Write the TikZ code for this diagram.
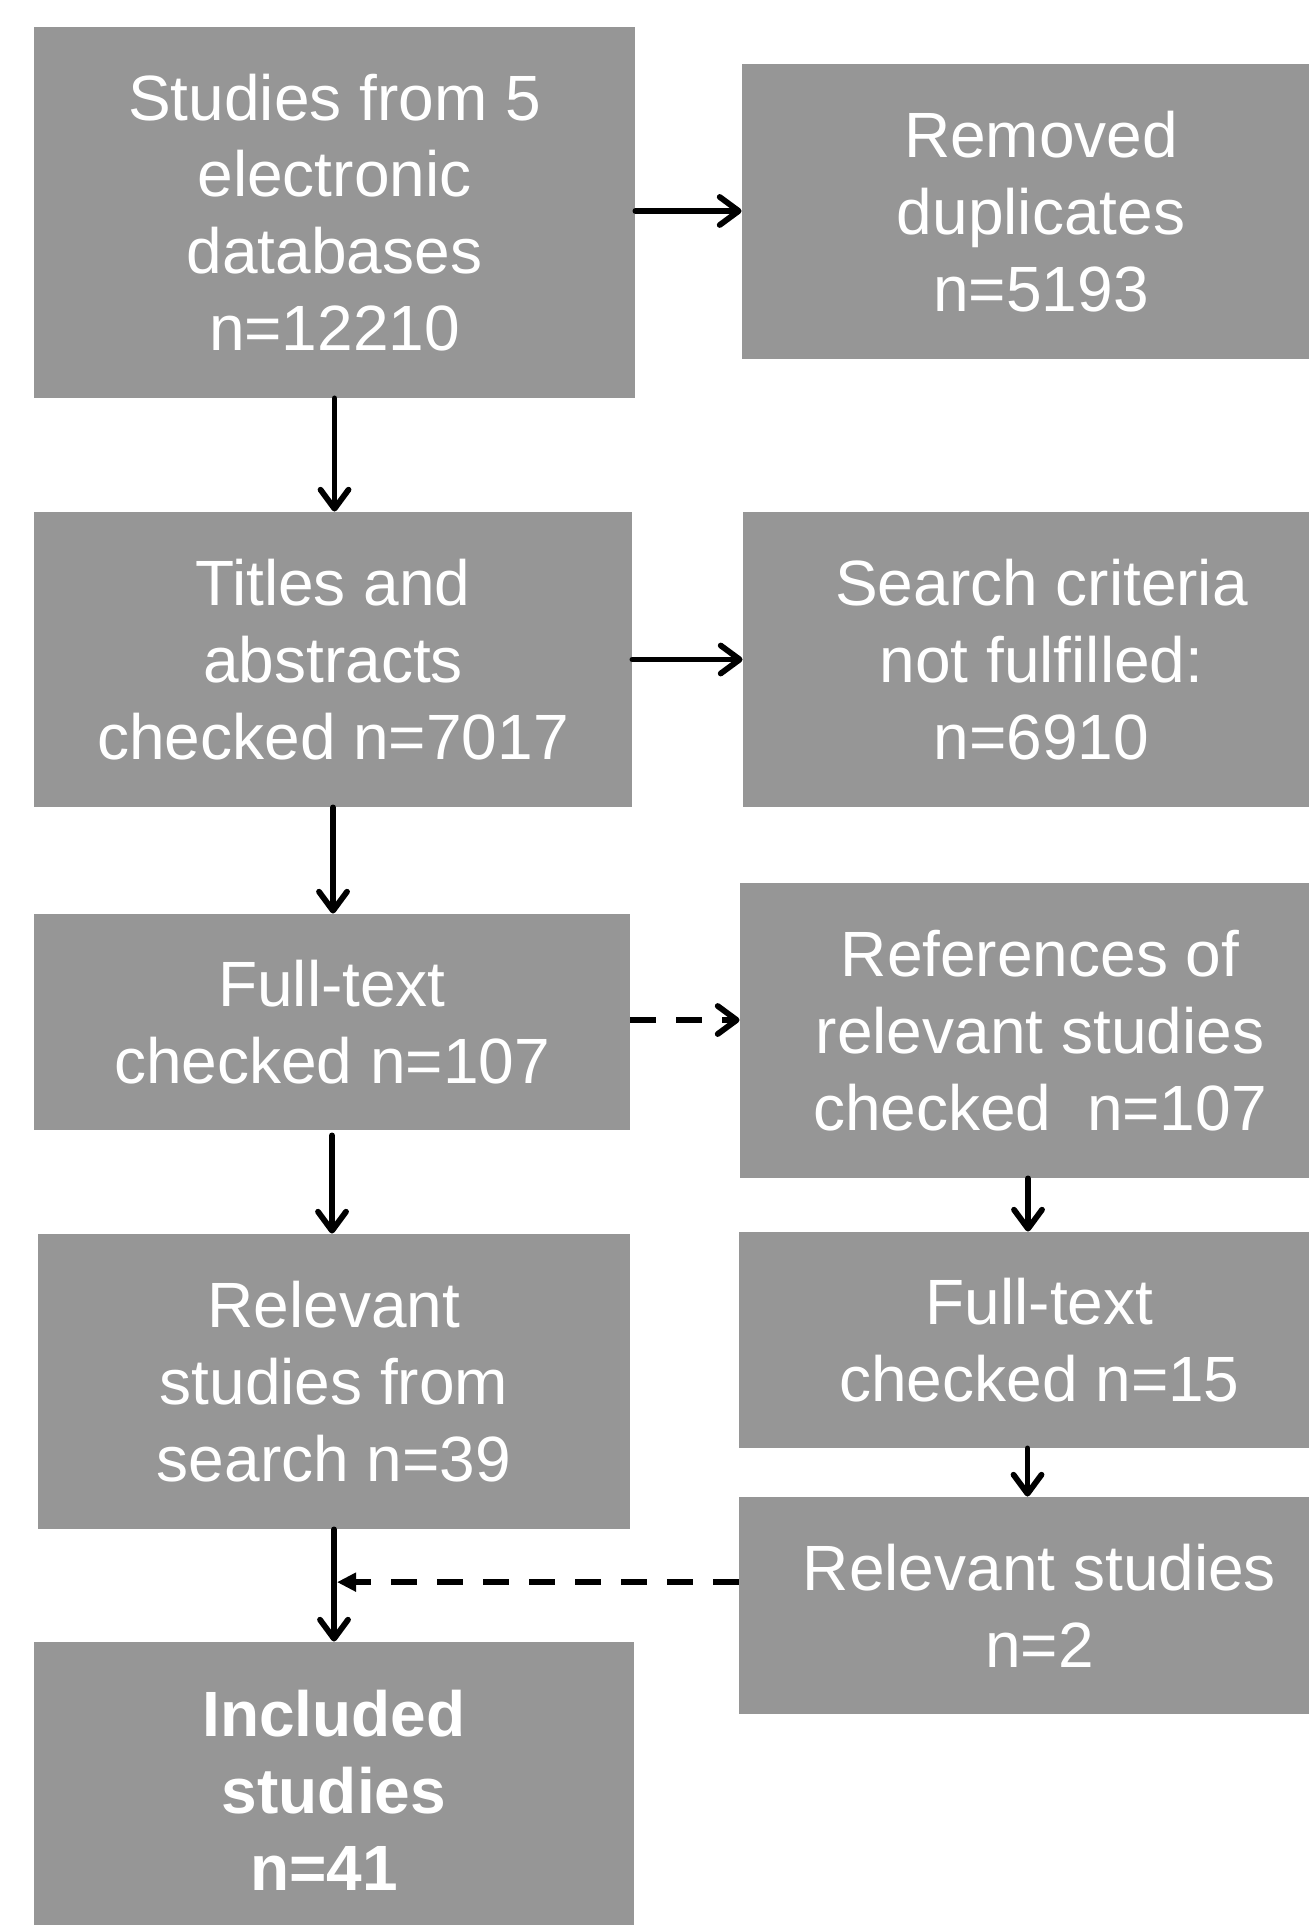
\documentclass[tikz,border=0pt]{standalone}
\usepackage{fontspec}
\setmainfont{Liberation Sans}
\usetikzlibrary{arrows.meta,calc}
\definecolor{boxgray}{RGB}{150,150,150}
\begin{document}
\begin{tikzpicture}[x=0.5pt,y=-0.5pt,
  box/.style={fill=boxgray,draw=none,inner sep=0pt,align=center,text=white,
    font=\fontsize{32pt}{38.4pt}\selectfont},
  conn/.style={line width=2.9pt,line cap=round,line join=round,
    -{Straight Barb[length=9.5pt,width=14pt,line cap=round,line join=round]}},
  dconn/.style={line width=2.9pt,dash pattern=on 13pt off 10pt,
    -{Straight Barb[length=9.5pt,width=14pt,line cap=round,line join=round]}},
  tconn/.style={line width=2.9pt,dash pattern=on 13pt off 10pt,
    -{Triangle[length=9.5pt,width=9pt]}}]
\useasboundingbox (0,0) rectangle (1309,1925);
\clip (0,0) rectangle (1309,1925);
\node[box,minimum width=300.5pt,minimum height=185.5pt] (b1) at (334.5,212.5)
  {Studies from 5\\electronic\\databases\\n=12210};
\node[box,minimum width=299pt,minimum height=147.5pt] (b2) at (1041,211.5)
  {Removed\\duplicates\\n=5193};
\node[box,minimum width=299pt,minimum height=147.5pt] (b3) at (333,659.5)
  {Titles and\\abstracts\\checked n=7017};
\node[box,minimum width=298.5pt,minimum height=147.5pt] (b4) at (1041.5,659.5)
  {Search criteria\\not fulfilled:\\n=6910};
\node[box,minimum width=298pt,minimum height=108pt] (b5) at (332,1022)
  {Full-text\\checked n=107};
\node[box,minimum width=300pt,minimum height=147.5pt] (b6) at (1040,1030.5)
  {References of\\relevant studies\\checked\ \ n=107};
\node[box,minimum width=296pt,minimum height=147.5pt] (b7) at (334,1381.5)
  {Relevant\\studies from\\search n=39};
\node[box,minimum width=300.5pt,minimum height=108pt] (b8) at (1039.5,1340)
  {Full-text\\checked n=15};
\node[box,minimum width=300.5pt,minimum height=108.5pt] (b9) at (1039.5,1605.5)
  {Relevant studies\\n=2};
\node[box,minimum width=300pt,minimum height=148pt,font=\fontsize{32pt}{38.4pt}\selectfont\bfseries] (b10) at (334,1790)
  {Included\\studies\\n=41\hspace*{10pt}\mbox{}};
\draw[conn] ([yshift=0.75pt]b1.east) -- ([yshift=0.75pt]b1.east -| b2.west);
\draw[conn] (b1.south) -- (b1.south |- b3.north);
\draw[conn] (b3.east) -- (b3.east -| b4.west);
\draw[conn] (b3.south) -- (b3.south |- b5.north);
\draw[dconn] ([yshift=1pt]b5.east) -- ([yshift=1pt]b5.east -| b6.west);
\draw[conn,shorten <=2.5pt] (b5.south) -- (b5.south |- b7.north);
\draw[conn] ([xshift=-6pt]b6.south) -- ([xshift=-6pt]b6.south |- b8.north);
\draw[conn] ([xshift=-6pt]b8.south) -- ([xshift=-6pt]b8.south |- b9.north);
\draw[conn] (b7.south) -- (b7.south |- b10.north);
\coordinate (j) at ($(b7.south)!0.47!(b10.north)$);
\draw[tconn] (j -| b9.west) -- ([xshift=1.5pt]j);
\end{tikzpicture}
\end{document}
